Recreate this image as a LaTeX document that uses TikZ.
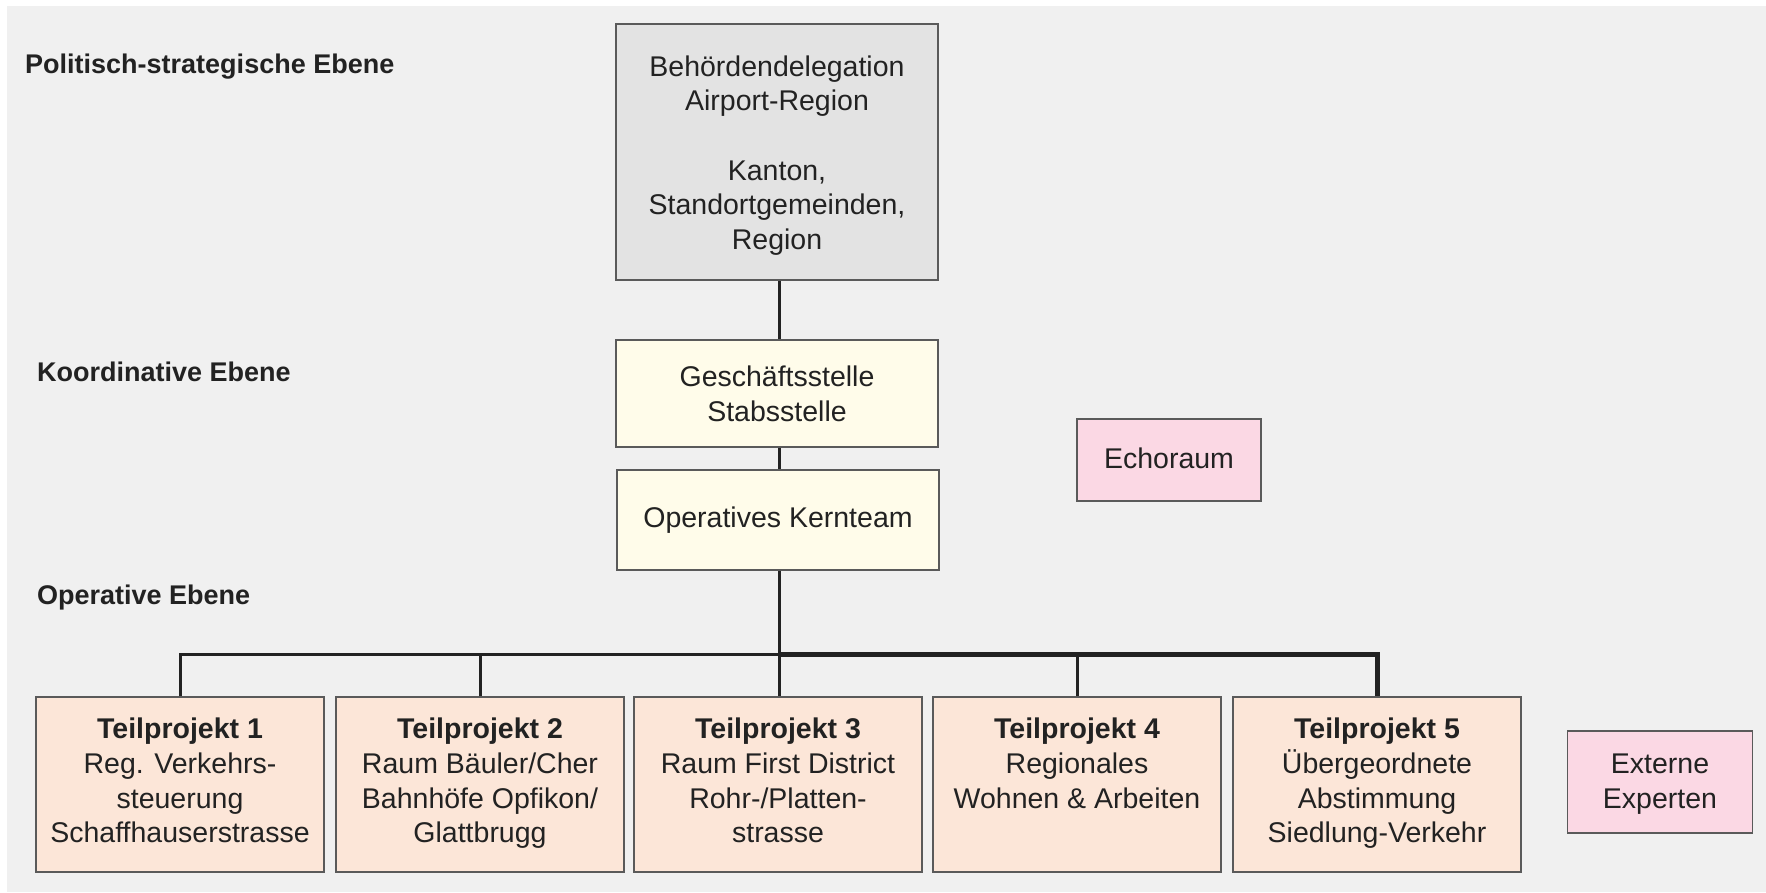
\documentclass[tikz,border=0pt]{standalone}
\usepackage{fontspec}
\setmainfont{Liberation Sans}
\definecolor{bgc}{HTML}{F0F0F0}
\definecolor{boxline}{HTML}{5A5A5A}
\definecolor{txt}{HTML}{222222}
\definecolor{grayfill}{HTML}{E3E3E3}
\definecolor{creamfill}{HTML}{FFFCEA}
\definecolor{pinkfill}{HTML}{FBD8E4}
\definecolor{peachfill}{HTML}{FCE6D8}
\definecolor{linec}{HTML}{222222}
\begin{document}
\begin{tikzpicture}[x=1pt,y=-1pt,
  box/.style={draw=boxline, line width=1.3pt, inner sep=0pt, align=center,
    font=\fontsize{28.5}{34.7}\selectfont, text=txt},
  tpbox/.style={box, fill=peachfill, minimum width=288pt, minimum height=175pt},
  btext/.style={inner sep=0pt, align=center,
    font=\fontsize{28.5}{34.7}\selectfont, text=txt},
  tptext/.style={btext, anchor=north},
  level/.style={inner sep=0pt, anchor=west, font=\fontsize{27}{32}\selectfont\bfseries, text=txt},
  conn/.style={draw=linec, line width=3pt},
  connthick/.style={draw=linec, line width=5pt}
]
\useasboundingbox (0,0) rectangle (1766,892);
\fill[bgc] (7,6) rectangle (1766,892);

% level labels
\node[level] (l1) at (25,66.5) {Politisch-strategische Ebene};
\node[level] (l2) at (37,372) {Koordinative Ebene};
\node[level] (l3) at (37,597.5) {Operative Ebene};

% upper boxes
\node[box, fill=grayfill, minimum width=322pt, minimum height=256pt] (top) at (777,152) {};
\node[btext] (topt) at ([yshift=-3.4pt]top.center)
  {Behördendelegation\\Airport-Region\\[34.7pt]Kanton,\\Standortgemeinden,\\Region};
\node[box, fill=creamfill, minimum width=322pt, minimum height=107pt] (gs) at (777,393.5)
  {Geschäftsstelle\\Stabsstelle};
\node[box, fill=creamfill, minimum width=322pt, minimum height=100pt] (kern) at (778,520)
  {Operatives Kernteam};
\node[box, fill=pinkfill, minimum width=184pt, minimum height=82pt] (echo) at (1169,460) {};
\node[btext] (echot) at ([yshift=2pt]echo.center) {Echoraum};
\node[box, fill=pinkfill, minimum width=185pt, minimum height=102pt] (ext) at (1660,782) {};
\node[btext] (extt) at ([yshift=-2pt]ext.center) {Externe\\Experten};

% Teilprojekte
\node[tpbox] (tp1) at (180,784.5) {};
\node[tpbox] (tp2) at (480,784.5) {};
\node[tpbox] (tp3) at (778,784.5) {};
\node[tpbox] (tp4) at (1077,784.5) {};
\node[tpbox] (tp5) at (1377,784.5) {};

\node[tptext] (tp1t) at ([yshift=-21.4pt]tp1.north) {\textbf{Teilprojekt 1}\\Reg. Verkehrs-\\steuerung\\Schaffhauserstrasse};
\node[tptext] (tp2t) at ([yshift=-21.4pt]tp2.north) {\textbf{Teilprojekt 2}\\Raum Bäuler/Cher\\Bahnhöfe Opfikon/\\Glattbrugg};
\node[tptext] (tp3t) at ([yshift=-21.4pt]tp3.north) {\textbf{Teilprojekt 3}\\Raum First District\\Rohr-/Platten-\\strasse};
\node[tptext] (tp4t) at ([yshift=-21.4pt]tp4.north) {\textbf{Teilprojekt 4}\\Regionales\\Wohnen \& Arbeiten};
\node[tptext] (tp5t) at ([yshift=-21.4pt]tp5.north) {\textbf{Teilprojekt 5}\\Übergeordnete\\Abstimmung\\Siedlung-Verkehr};

% connectors
\coordinate (bus) at (779,654);
\draw[conn] (top.south -| bus) -- (gs.north -| bus);
\draw[conn] (gs.south -| bus) -- (kern.north -| bus);
\draw[connthick] (bus) -| (tp5.north);
\draw[conn] (tp1.north) |- (bus);
\draw[conn] (tp2.north) -- (tp2.north |- bus);
\draw[conn] (tp4.north) -- (tp4.north |- bus);
\draw[conn] (kern.south -| bus) -- (tp3.north -| bus);
\end{tikzpicture}
\end{document}
